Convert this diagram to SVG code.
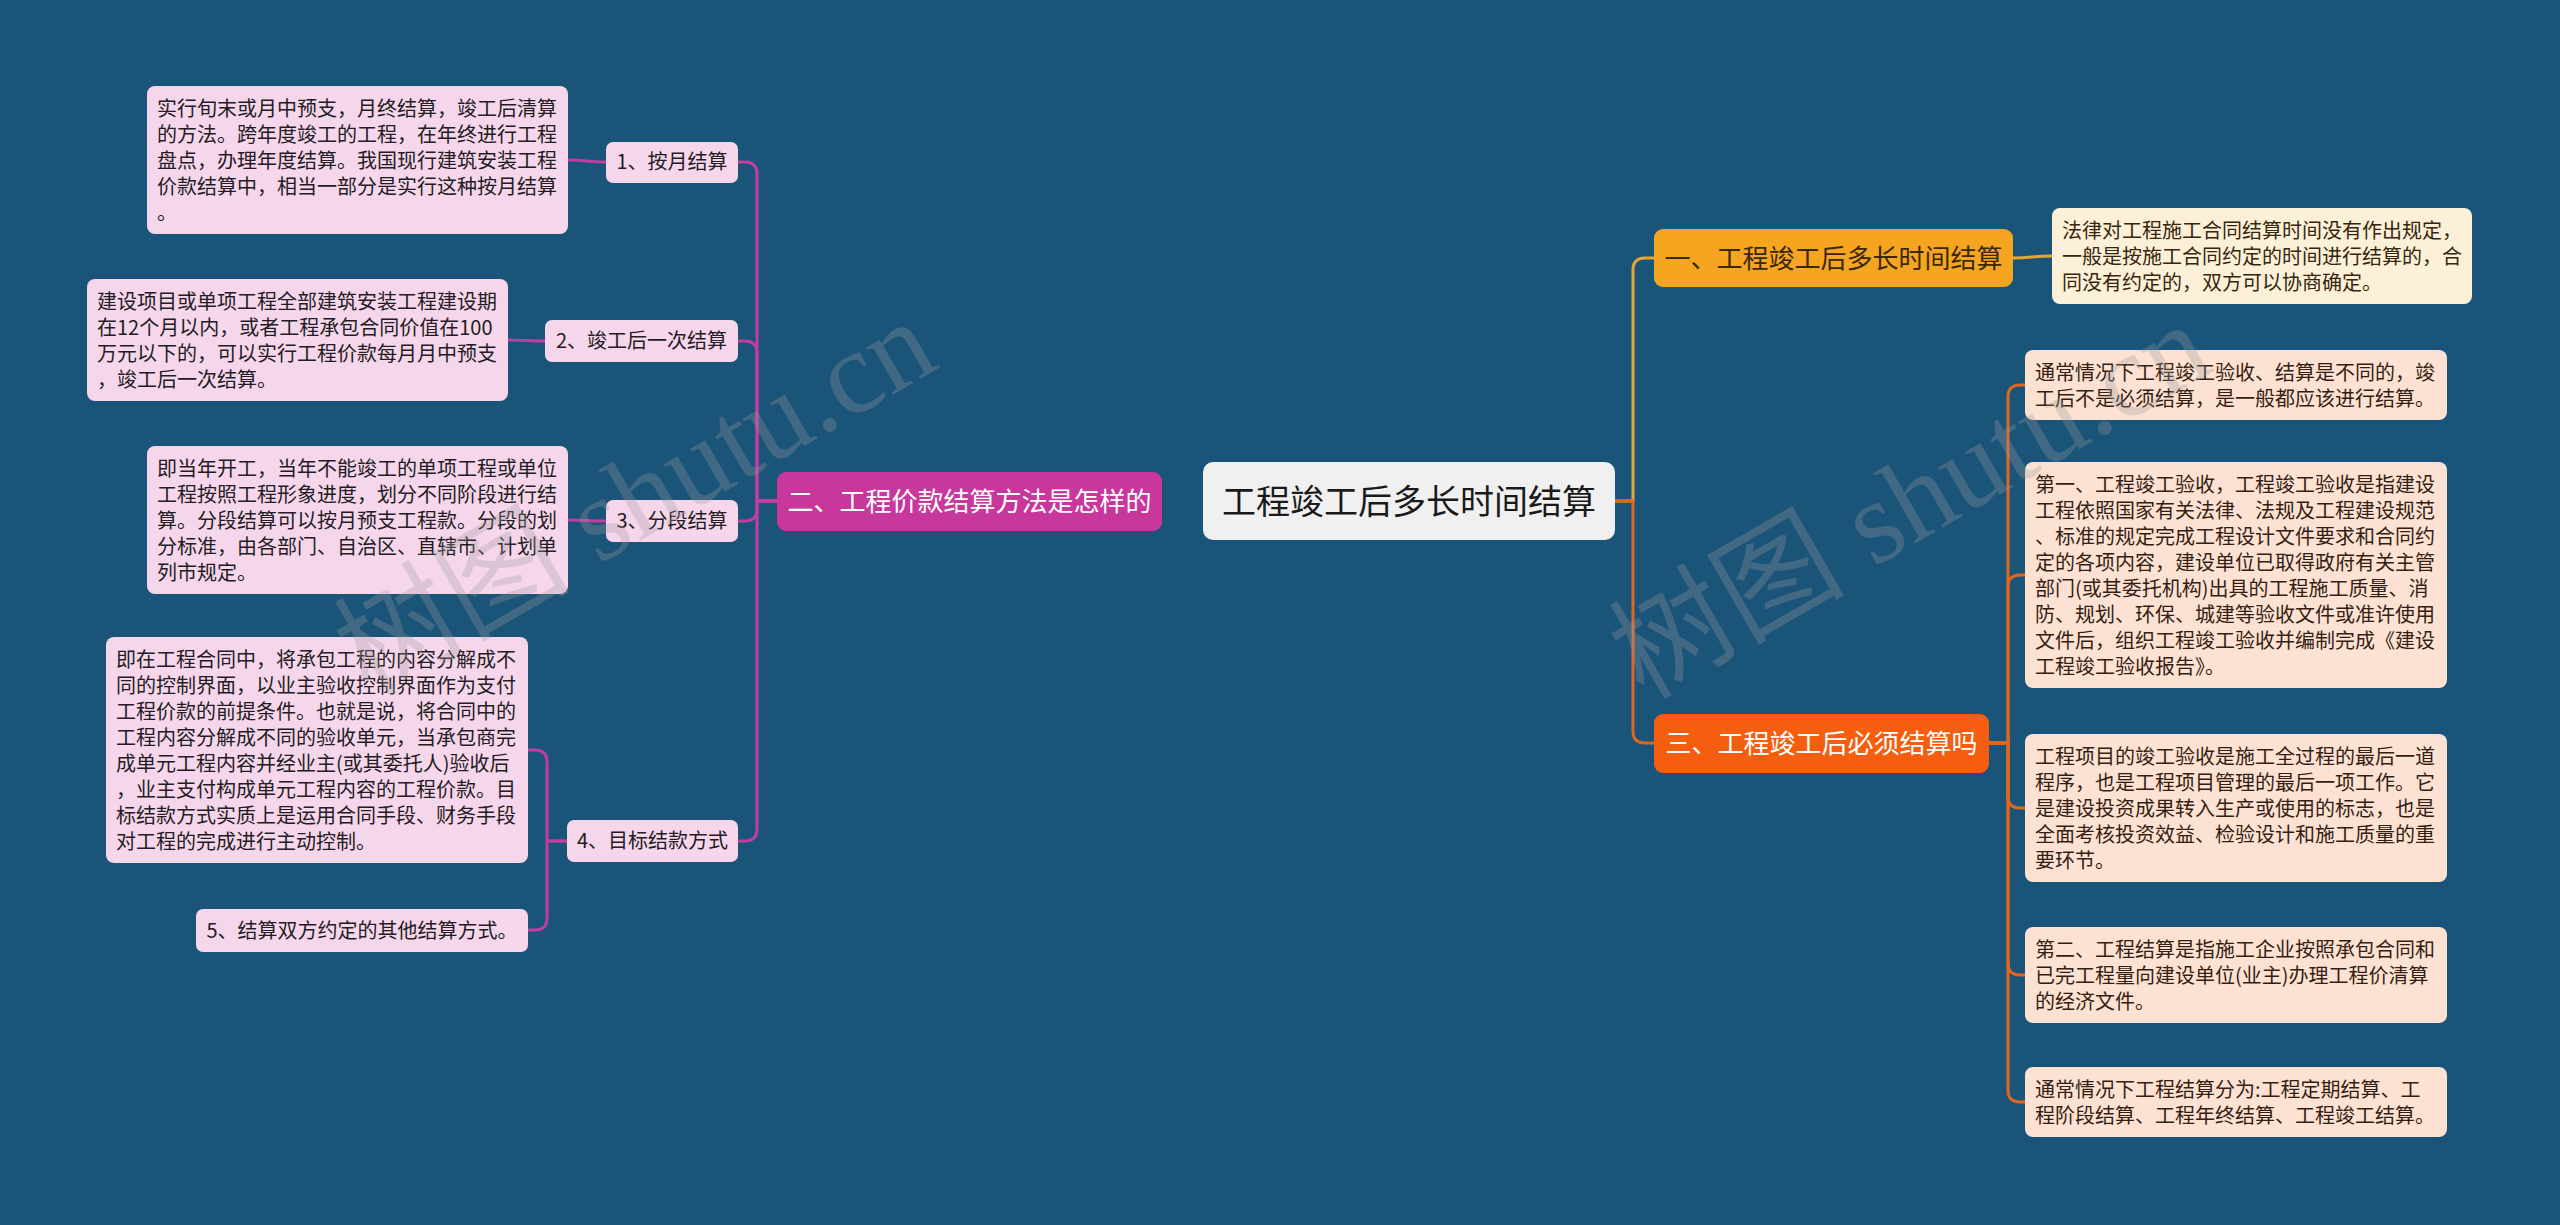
<svg xmlns="http://www.w3.org/2000/svg" width="2560" height="1225" viewBox="0 0 2560 1225">
<style>
text{font-family:"Noto Sans CJK SC","Microsoft YaHei",sans-serif;}
.leafL{fill:#f6d6eb;}
.leafR{fill:#fde1d2;}
.leafC{fill:#fdf0d8;}
.tL{font-size:20px;fill:#231c22;}
.tR{font-size:20px;fill:#341e12;}
.tC{font-size:20px;fill:#35270e;}
.mid{text-anchor:middle;}
.cm{fill:none;stroke:#c13e9f;stroke-width:3;}
.cy{fill:none;stroke:#e3a631;stroke-width:3;}
.co{fill:none;stroke:#e0661f;stroke-width:3;}
.wm{font-family:"Liberation Serif","Noto Sans CJK SC",serif;font-size:118px;fill:#9a9a9a;fill-opacity:0.3;}
</style>
<rect x="0" y="0" width="2560" height="1225" fill="#1b5479"/>

<g id="connectors">
<path class="cm" d="M777,501 H757 V174 Q757,162 745,162 H738"/>
<path class="cm" d="M777,501 H757 V353 Q757,341 745,341 H738"/>
<path class="cm" d="M777,501 H757 V509 Q757,521 745,521 H738"/>
<path class="cm" d="M777,501 H757 V829 Q757,841 745,841 H738"/>
<path class="cm" d="M606,162 C587,162 587,160 568,160"/>
<path class="cm" d="M545,341 C526,341 526,340 508,340"/>
<path class="cm" d="M606,521 C587,521 587,520 568,520"/>
<path class="cm" d="M567,841 H547 V762 Q547,750 535,750 H528"/>
<path class="cm" d="M567,841 H547 V918 Q547,930 535,930 H528"/>
<path class="cy" d="M1615,501 H1633 V270 Q1633,258 1645,258 H1654"/>
<path class="co" d="M1615,501 H1633 V731 Q1633,743 1645,743 H1654"/>
<path class="cy" d="M2013,258 C2032,258 2032,256 2052,256"/>
<path class="co" d="M1989,743 H2008 V397 Q2008,385 2020,385 H2025"/>
<path class="co" d="M1989,743 H2008 V587 Q2008,575 2020,575 H2025"/>
<path class="co" d="M1989,743 H2008 V796 Q2008,808 2020,808 H2025"/>
<path class="co" d="M1989,743 H2008 V963 Q2008,975 2020,975 H2025"/>
<path class="co" d="M1989,743 H2008 V1090 Q2008,1102 2020,1102 H2025"/>
</g>

<g id="root">
<rect x="1203" y="462" width="412" height="78" rx="10" fill="#f0f0f0"/>
<text class="mid" x="1409" y="514" style="font-size:34px;fill:#1a1a1a">工程竣工后多长时间结算</text>
</g>

<g id="b2">
<rect x="777" y="472" width="385" height="59" rx="9" fill="#c8389c"/>
<text class="mid" x="969.5" y="511" style="font-size:26px;fill:#ffffff">二、工程价款结算方法是怎样的</text>
</g>

<g id="b1">
<rect x="1654" y="229" width="359" height="58" rx="9" fill="#f5a51f"/>
<text class="mid" x="1833.5" y="268" style="font-size:26px;fill:#3a2800">一、工程竣工后多长时间结算</text>
</g>

<g id="b3">
<rect x="1654" y="714" width="335" height="59" rx="9" fill="#f55e0e"/>
<text class="mid" x="1821.5" y="753" style="font-size:26px;fill:#ffffff">三、工程竣工后必须结算吗</text>
</g>

<g id="s1">
<rect class="leafL" x="606" y="142" width="132" height="41" rx="7"/>
<text class="tL mid" x="672" y="169">1、按月结算</text>
</g>
<g id="s2">
<rect class="leafL" x="545" y="320" width="193" height="42" rx="7"/>
<text class="tL mid" x="641.5" y="348">2、竣工后一次结算</text>
</g>
<g id="s3">
<rect class="leafL" x="606" y="500" width="132" height="42" rx="7"/>
<text class="tL mid" x="672" y="528">3、分段结算</text>
</g>
<g id="s4">
<rect class="leafL" x="567" y="820" width="171" height="42" rx="7"/>
<text class="tL mid" x="652.5" y="848">4、目标结款方式</text>
</g>

<g id="l1">
<rect class="leafL" x="147" y="86" width="421" height="148" rx="8"/>
<text class="tL">
<tspan x="157" y="116">实行旬末或月中预支，月终结算，竣工后清算</tspan>
<tspan x="157" y="142">的方法。跨年度竣工的工程，在年终进行工程</tspan>
<tspan x="157" y="168">盘点，办理年度结算。我国现行建筑安装工程</tspan>
<tspan x="157" y="194">价款结算中，相当一部分是实行这种按月结算</tspan>
<tspan x="157" y="220">。</tspan>
</text>
</g>
<g id="l2">
<rect class="leafL" x="87" y="279" width="421" height="122" rx="8"/>
<text class="tL">
<tspan x="97" y="309">建设项目或单项工程全部建筑安装工程建设期</tspan>
<tspan x="97" y="335">在12个月以内，或者工程承包合同价值在100</tspan>
<tspan x="97" y="361">万元以下的，可以实行工程价款每月月中预支</tspan>
<tspan x="97" y="387">，竣工后一次结算。</tspan>
</text>
</g>
<g id="l3">
<rect class="leafL" x="147" y="446" width="421" height="148" rx="8"/>
<text class="tL">
<tspan x="157" y="476">即当年开工，当年不能竣工的单项工程或单位</tspan>
<tspan x="157" y="502">工程按照工程形象进度，划分不同阶段进行结</tspan>
<tspan x="157" y="528">算。分段结算可以按月预支工程款。分段的划</tspan>
<tspan x="157" y="554">分标准，由各部门、自治区、直辖市、计划单</tspan>
<tspan x="157" y="580">列市规定。</tspan>
</text>
</g>
<g id="l4">
<rect class="leafL" x="106" y="637" width="422" height="226" rx="8"/>
<text class="tL">
<tspan x="116" y="667">即在工程合同中，将承包工程的内容分解成不</tspan>
<tspan x="116" y="693">同的控制界面，以业主验收控制界面作为支付</tspan>
<tspan x="116" y="719">工程价款的前提条件。也就是说，将合同中的</tspan>
<tspan x="116" y="745">工程内容分解成不同的验收单元，当承包商完</tspan>
<tspan x="116" y="771">成单元工程内容并经业主(或其委托人)验收后</tspan>
<tspan x="116" y="797">，业主支付构成单元工程内容的工程价款。目</tspan>
<tspan x="116" y="823">标结款方式实质上是运用合同手段、财务手段</tspan>
<tspan x="116" y="849">对工程的完成进行主动控制。</tspan>
</text>
</g>
<g id="l5">
<rect class="leafL" x="196" y="909" width="332" height="43" rx="7"/>
<text class="tL mid" x="362" y="938">5、结算双方约定的其他结算方式。</text>
</g>

<g id="r0">
<rect class="leafC" x="2052" y="208" width="420" height="96" rx="8"/>
<text class="tC">
<tspan x="2062" y="238">法律对工程施工合同结算时间没有作出规定，</tspan>
<tspan x="2062" y="264">一般是按施工合同约定的时间进行结算的，合</tspan>
<tspan x="2062" y="290">同没有约定的，双方可以协商确定。</tspan>
</text>
</g>
<g id="r1">
<rect class="leafR" x="2025" y="350" width="422" height="70" rx="8"/>
<text class="tR">
<tspan x="2035" y="380">通常情况下工程竣工验收、结算是不同的，竣</tspan>
<tspan x="2035" y="406">工后不是必须结算，是一般都应该进行结算。</tspan>
</text>
</g>
<g id="r2">
<rect class="leafR" x="2025" y="462" width="422" height="226" rx="8"/>
<text class="tR">
<tspan x="2035" y="492">第一、工程竣工验收，工程竣工验收是指建设</tspan>
<tspan x="2035" y="518">工程依照国家有关法律、法规及工程建设规范</tspan>
<tspan x="2035" y="544">、标准的规定完成工程设计文件要求和合同约</tspan>
<tspan x="2035" y="570">定的各项内容，建设单位已取得政府有关主管</tspan>
<tspan x="2035" y="596">部门(或其委托机构)出具的工程施工质量、消</tspan>
<tspan x="2035" y="622">防、规划、环保、城建等验收文件或准许使用</tspan>
<tspan x="2035" y="648">文件后，组织工程竣工验收并编制完成《建设</tspan>
<tspan x="2035" y="674">工程竣工验收报告》。</tspan>
</text>
</g>
<g id="r3">
<rect class="leafR" x="2025" y="734" width="422" height="148" rx="8"/>
<text class="tR">
<tspan x="2035" y="764">工程项目的竣工验收是施工全过程的最后一道</tspan>
<tspan x="2035" y="790">程序，也是工程项目管理的最后一项工作。它</tspan>
<tspan x="2035" y="816">是建设投资成果转入生产或使用的标志，也是</tspan>
<tspan x="2035" y="842">全面考核投资效益、检验设计和施工质量的重</tspan>
<tspan x="2035" y="868">要环节。</tspan>
</text>
</g>
<g id="r4">
<rect class="leafR" x="2025" y="927" width="422" height="96" rx="8"/>
<text class="tR">
<tspan x="2035" y="957">第二、工程结算是指施工企业按照承包合同和</tspan>
<tspan x="2035" y="983">已完工程量向建设单位(业主)办理工程价清算</tspan>
<tspan x="2035" y="1009">的经济文件。</tspan>
</text>
</g>
<g id="r5">
<rect class="leafR" x="2025" y="1067" width="422" height="70" rx="8"/>
<text class="tR">
<tspan x="2035" y="1097">通常情况下工程结算分为:工程定期结算、工</tspan>
<tspan x="2035" y="1123">程阶段结算、工程年终结算、工程竣工结算。</tspan>
</text>
</g>

<g id="watermarks">
<text class="wm mid" transform="translate(655,532) rotate(-30)">树图 shutu.cn</text>
<text class="wm mid" transform="translate(1930,535) rotate(-30)">树图 shutu.cn</text>
</g>
</svg>
